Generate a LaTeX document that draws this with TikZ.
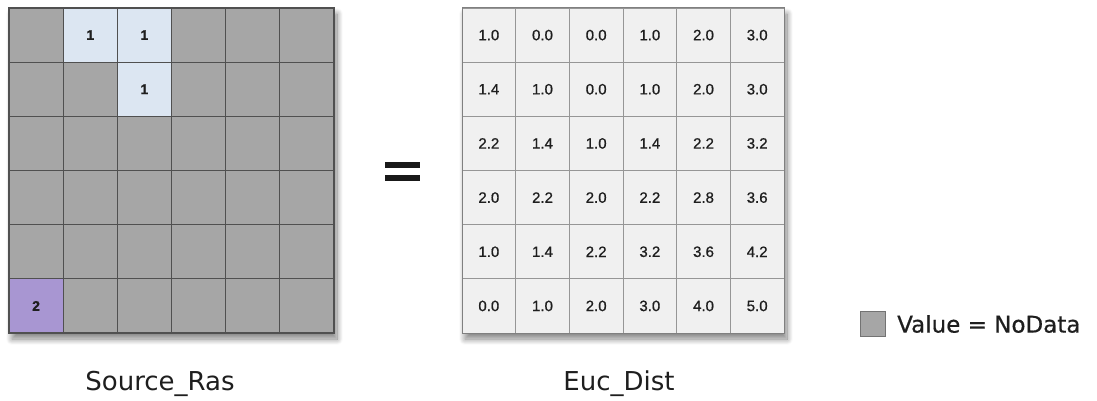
\documentclass[tikz,border=0pt]{standalone}
\usepackage{fontspec}
\setmainfont{DejaVu Sans}
\newfontfamily\cellfont[FakeBold=0.8]{Liberation Sans}
\newfontfamily\legfont[FakeBold=0.6]{DejaVu Sans}
\usetikzlibrary{shadows.blur}
\definecolor{nodata}{RGB}{166,166,166}
\definecolor{srcblue}{RGB}{220,230,242}
\definecolor{srcpurple}{RGB}{168,150,210}
\definecolor{distcell}{RGB}{240,240,240}
\definecolor{distline}{RGB}{150,150,150}
\definecolor{srcline}{RGB}{80,80,80}
\definecolor{txt}{RGB}{30,30,30}
\begin{document}
\begin{tikzpicture}[x=1pt,y=-1pt,
  srccell/.style={draw=srcline,line width=1.1pt,fill=nodata,inner sep=0pt,
    minimum width=54.17pt,minimum height=54.17pt,text=txt,
    font=\cellfont\bfseries\fontsize{14}{15}\selectfont},
  distcellstyle/.style={draw=distline,line width=0.9pt,fill=distcell,inner sep=0pt,
    minimum width=53.67pt,minimum height=54.17pt,text=txt,
    font=\cellfont\fontsize{15}{16}\selectfont},
  gridshadow/.style={blur shadow={shadow xshift=3pt,shadow yshift=-6pt,shadow blur steps=20,shadow blur radius=6pt,shadow opacity=50}},
  caption/.style={font=\fontsize{26}{30}\selectfont,text=txt,inner sep=0pt},
  legendtext/.style={font=\legfont\fontsize{23}{26}\selectfont,text=txt,inner sep=0pt,anchor=west}
]
\useasboundingbox (0,0) rectangle (1097,401);
% shadows / frames
\path[fill=nodata,gridshadow] (9,8) rectangle (334,333);
\path[fill=distcell,gridshadow] (462,8) rectangle (784,333);
% source raster
\foreach \r in {1,...,6}{
  \foreach \c in {1,...,6}{
    \node[srccell] (s-\r-\c) at ({9+54.17*(\c-0.5)},{8+54.17*(\r-0.5)}) {};
  }
}
\node[srccell,fill=srcblue] (s-1-2) at ({9+54.17*1.5},{8+54.17*0.5}) {1};
\node[srccell,fill=srcblue] (s-1-3) at ({9+54.17*2.5},{8+54.17*0.5}) {1};
\node[srccell,fill=srcblue] (s-2-3) at ({9+54.17*2.5},{8+54.17*1.5}) {1};
\node[srccell,fill=srcpurple] (s-6-1) at ({9+54.17*0.5},{8+54.17*5.5}) {2};
\draw[srcline,line width=1.1pt] (9,8) rectangle (334,333);
% distance raster
\foreach \row [count=\r] in {
  {1.0,0.0,0.0,1.0,2.0,3.0},
  {1.4,1.0,0.0,1.0,2.0,3.0},
  {2.2,1.4,1.0,1.4,2.2,3.2},
  {2.0,2.2,2.0,2.2,2.8,3.6},
  {1.0,1.4,2.2,3.2,3.6,4.2},
  {0.0,1.0,2.0,3.0,4.0,5.0}}{
  \foreach \v [count=\c] in \row {
    \node[distcellstyle] (d-\r-\c) at ({462+53.67*(\c-0.5)},{8+54.17*(\r-0.5)}) {\v};
  }
}
\draw[distline!85!black,line width=1pt] (462,8) rectangle (784,333);
% equals sign
\fill[black!90] (385,162) rectangle (420,167.5);
\fill[black!90] (385,175) rectangle (420,180.5);
\node[inner sep=0pt] (eq) at (402.5,171) {};
% captions
\node[caption] (srccap) at (160,384) {Source\_Ras};
\node[caption] (distcap) at (619,384) {Euc\_Dist};
% legend
\node[draw=black!55,line width=1pt,fill=nodata,minimum width=25pt,minimum height=25pt,inner sep=0pt] (legbox) at (873,323.5) {};
\node[legendtext] (legtext) at (897,324) {Value = NoData};
\end{tikzpicture}
\end{document}
